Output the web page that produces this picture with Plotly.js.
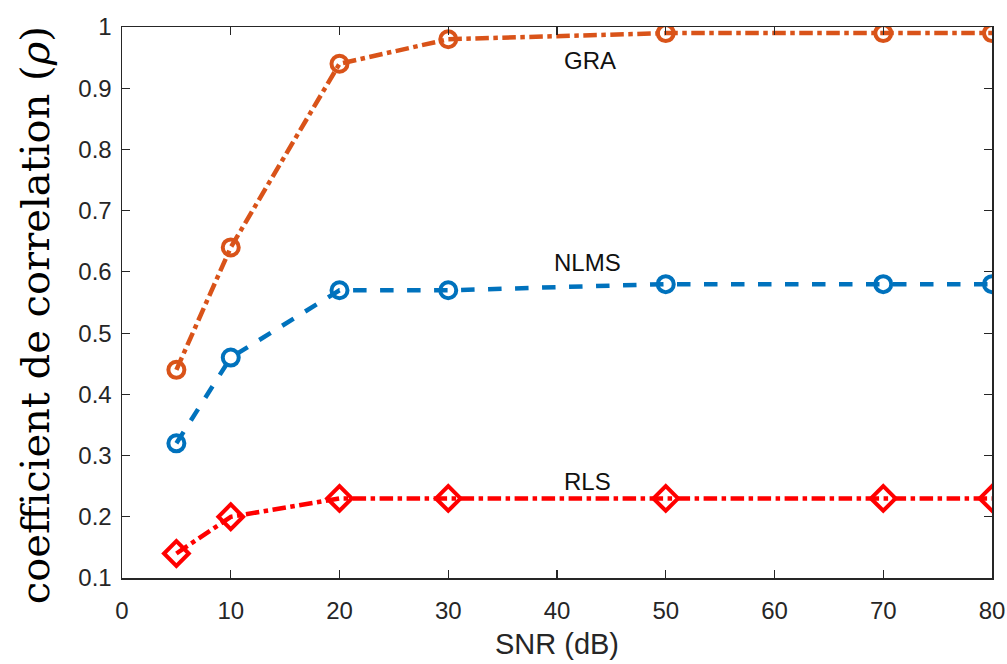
<!DOCTYPE html>
<html><head><meta charset="utf-8">
<script src="https://cdn.plot.ly/plotly-3.0.1.min.js"></script>
<style>html,body{margin:0;padding:0;background:#fff;}</style>
</head><body>
<div id="chart" style="width:1007px;height:664px;"></div>
<script>
const snr = [5, 10, 20, 30, 50, 70, 80];
const graValues = [0.44, 0.64, 0.94, 0.98, 0.99, 0.99, 0.99];
const nlmsValues = [0.32, 0.46, 0.57, 0.57, 0.58, 0.58, 0.58];
const rlsValues = [0.14, 0.20, 0.23, 0.23, 0.23, 0.23, 0.23];
const seriesNames = ['GRA', 'NLMS', 'RLS'];
const labelPos = [[43, 0.946], [42.8, 0.616], [42.8, 0.257]];
const xTicks = [0, 10, 20, 30, 40, 50, 60, 70, 80];
const yTicks = [0.1, 0.2, 0.3, 0.4, 0.5, 0.6, 0.7, 0.8, 0.9, 1];
const yTickText = ['0.1','0.2','0.3','0.4','0.5','0.6','0.7','0.8','0.9','1'];
const yTitle = 'coefficient de correlation (<i>ρ</i>)';

const traces = [
  {x: snr, y: graValues, name: 'GRA', mode: 'lines+markers',
   line: {color: '#D95319', width: 4.5, dash: 'dashdot'},
   marker: {symbol: 'circle-open', size: 16, color: '#D95319', line: {width: 4, color: '#D95319'}}},
  {x: snr, y: nlmsValues, name: 'NLMS', mode: 'lines+markers',
   line: {color: '#0072BD', width: 4.5, dash: 'dash'},
   marker: {symbol: 'circle-open', size: 16, color: '#0072BD', line: {width: 4, color: '#0072BD'}}},
  {x: snr, y: rlsValues, name: 'RLS', mode: 'lines+markers',
   line: {color: '#FF0000', width: 4.5, dash: 'dashdot'},
   marker: {symbol: 'diamond-open', size: 19, color: '#FF0000', line: {width: 4, color: '#FF0000'}}}
];

const annotations = seriesNames.map((n, i) => ({
  x: labelPos[i][0], y: labelPos[i][1], text: n, showarrow: false,
  font: {family: 'Liberation Sans, Arial, sans-serif', size: 24, color: '#111'}
}));
annotations.push({
  xref: 'paper', yref: 'paper', x: -0.1, y: 0.477, xanchor: 'center', yanchor: 'middle',
  text: yTitle, textangle: -90, showarrow: false,
  font: {family: 'DejaVu Serif, serif', size: 40, color: '#000'}
});

const layout = {
  width: 1007, height: 664,
  margin: {l: 122, r: 15, t: 27, b: 86},
  paper_bgcolor: '#fff', plot_bgcolor: '#fff',
  showlegend: false,
  annotations: annotations,
  xaxis: {
    range: [0, 80], tickvals: xTicks, ticks: 'inside', ticklen: 8, tickwidth: 1.2, tickcolor: '#262626',
    showline: true, linecolor: '#262626', linewidth: 1.5, mirror: 'ticks', showgrid: false, zeroline: false,
    ticklabelstandoff: 11,
    tickfont: {family: 'Liberation Sans, Arial, sans-serif', size: 24, color: '#262626'},
    title: {text: 'SNR (dB)', font: {family: 'Liberation Sans, Arial, sans-serif', size: 29, color: '#262626'}, standoff: 10}
  },
  yaxis: {
    range: [0.1, 1], tickvals: yTicks, ticktext: yTickText, ticks: 'inside', ticklen: 8, tickwidth: 1.2, tickcolor: '#262626',
    showline: true, linecolor: '#262626', linewidth: 1.5, mirror: 'ticks', showgrid: false, zeroline: false,
    ticklabelstandoff: 4,
    tickfont: {family: 'Liberation Sans, Arial, sans-serif', size: 24, color: '#262626'}
  }
};

Plotly.newPlot('chart', traces, layout, {displayModeBar: false, staticPlot: true});
</script>
</body></html>
